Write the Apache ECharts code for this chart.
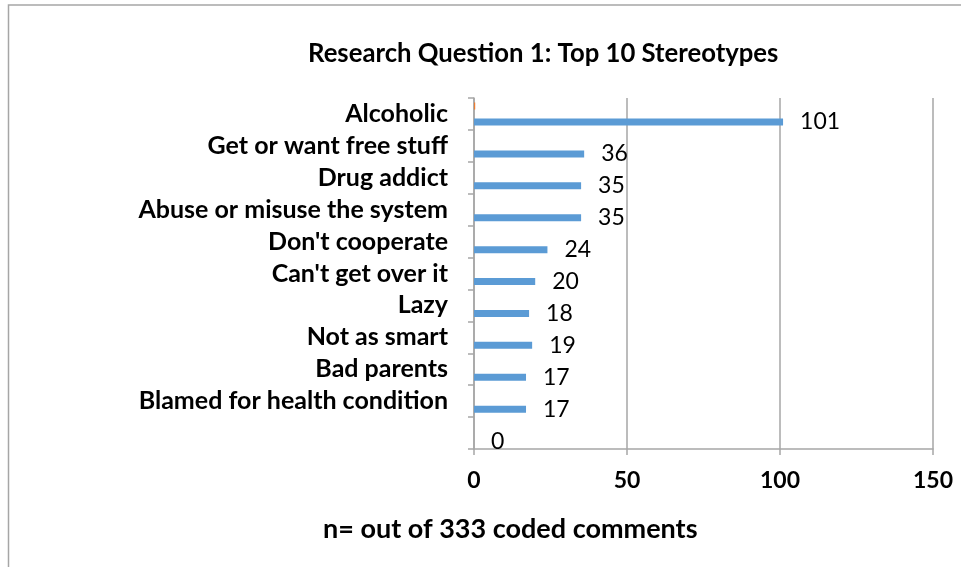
<!DOCTYPE html>
<html>
<head>
<meta charset="utf-8">
<script src="https://cdn.jsdelivr.net/npm/echarts@6/dist/echarts.min.js"></script>
<style>
html,body{margin:0;padding:0;background:#fff;}
#chart{width:961px;height:567px;}
</style>
</head>
<body>
<div id="chart"></div>
<script>
const chartTitle = "Research Question 1: Top 10 Stereotypes";
const axisTitle = "n= out of 333 coded comments";
const categories = ["Alcoholic", "Get or want free stuff", "Drug addict", "Abuse or misuse the system", "Don't cooperate", "Can't get over it", "Lazy", "Not as smart", "Bad parents", "Blamed for health condition", ""];
const series1Values = [101, 36, 35, 35, 24, 20, 18, 19, 17, 17, 0];
const series2Values = [0.4, 0, 0, 0, 0, 0, 0, 0, 0, 0, 0];
const xTicks = [0, 50, 100, 150];

const FONT = 'Lato';
const chart = echarts.init(document.getElementById('chart'), null, {renderer: 'canvas'});
chart.setOption({
  animation: false,
  backgroundColor: '#ffffff',
  graphic: [{
    type: 'rect', silent: true,
    shape: {x: 8.5, y: 5, width: 1000, height: 1000},
    style: {fill: 'none', stroke: '#A6A6A6', lineWidth: 1.5}
  }],
  title: [{
    text: chartTitle, left: 303, top: 36,
    textStyle: {fontFamily: FONT, fontWeight: 'bold', fontSize: 25.7, color: '#000'}
  }, {
    text: axisTitle, left: 318, top: 511,
    textStyle: {fontFamily: FONT, fontWeight: 'bold', fontSize: 27, color: '#000'}
  }],
  grid: {left: 474, right: 28, top: 98, bottom: 118, containLabel: false},
  xAxis: {
    type: 'value', min: xTicks[0], max: xTicks[xTicks.length - 1], interval: 50,
    axisLine: {show: true, lineStyle: {color: '#A6A6A6', width: 1.5}},
    axisTick: {show: true, length: 6, lineStyle: {color: '#A6A6A6', width: 1.5}},
    splitLine: {show: true, lineStyle: {color: '#A6A6A6', width: 1.5}},
    axisLabel: {margin: 20, fontFamily: FONT, fontWeight: 'bold', fontSize: 23, color: '#000'}
  },
  yAxis: {
    type: 'category', data: categories, inverse: true,
    axisLine: {show: true, lineStyle: {color: '#A6A6A6', width: 1.5}},
    axisTick: {show: true, interval: 0, length: 6, lineStyle: {color: '#A6A6A6', width: 1.5}},
    axisLabel: {interval: 0, hideOverlap: false, margin: 26, fontFamily: FONT, fontWeight: 'bold', fontSize: 25, color: '#000'}
  },
  series: [{
    name: 'Series2', type: 'bar', data: series2Values, barWidth: 7, barGap: '130%',
    itemStyle: {color: '#ED7D31'}
  }, {
    name: 'Series1', type: 'bar', data: series1Values, barWidth: 7, barGap: '130%',
    itemStyle: {color: '#5B9BD5'},
    label: {show: true, position: 'right', distance: 17, fontFamily: FONT, fontSize: 23, color: '#000'}
  }]
});
</script>
</body>
</html>
